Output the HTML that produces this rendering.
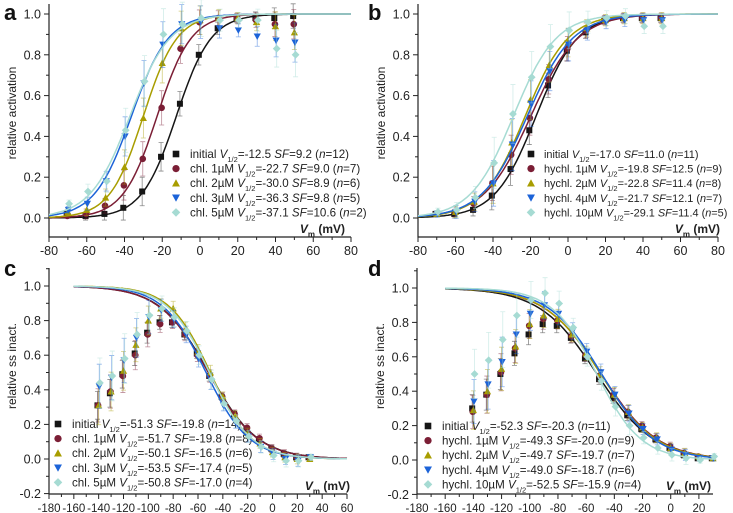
<!DOCTYPE html>
<html><head><meta charset="utf-8"><style>
html,body{margin:0;padding:0;background:#fff;}
svg{display:block;font-family:"Liberation Sans",sans-serif;}
</style></head><body>
<svg id="fig" width="733" height="513" viewBox="0 0 733 513"></svg>
<script>
const NS='http://www.w3.org/2000/svg';
const svg=document.getElementById('fig');
const colors=['#151515','#7b1e35','#a89d00','#1c63d8','#a6dbd3'];
const markers=['square','circle','tri-up','tri-down','diamond'];

// panel a
const aVolt=[-70,-60,-50,-40,-30,-20,-10,0,10,20,30,40,50];
const aInit=[0.02,0.01,0.02,0.05,0.13,0.30,0.56,0.80,0.93,0.98,0.98,0.98,0.99];
const aChl1=[0.01,0.02,0.06,0.16,0.29,0.54,0.83,0.96,0.98,0.98,0.97,0.95,0.95];
const aChl2=[0.03,0.04,0.10,0.25,0.49,0.76,0.93,0.97,0.98,0.98,0.96,0.94,0.91];
const aChl3=[0.04,0.07,0.18,0.40,0.66,0.85,0.95,0.96,0.93,0.92,0.89,0.87,0.86];
const aChl5=[0.07,0.13,0.18,0.43,0.67,0.90,0.95,0.98,0.97,0.97,0.97,0.83,0.80];
const aErr=[0.01,0.02,0.03,0.06,0.07,0.07,0.06,0.05,0.03,0.02,0.03,0.05,0.06];
const aV12=[-12.5,-22.7,-30.0,-36.3,-37.1];
const aSF=[9.2,9.0,8.9,9.8,10.6];
const aLabels=['initial','chl. 1\u00b5M','chl. 2\u00b5M','chl. 3\u00b5M','chl. 5\u00b5M'];
const aN=[12,7,6,5,2];
// panel b
const bVolt=[-70,-60,-50,-40,-30,-20,-10,0,10,20,30,40,50];
const bInit=[0.02,0.02,0.04,0.11,0.24,0.43,0.65,0.82,0.91,0.97,0.98,0.98,0.98];
const bHy1=[0.02,0.03,0.07,0.17,0.31,0.49,0.68,0.83,0.92,0.97,0.98,0.98,0.98];
const bHy2=[0.02,0.03,0.08,0.17,0.37,0.58,0.75,0.86,0.93,0.97,0.98,0.98,0.98];
const bHy4=[0.02,0.03,0.08,0.17,0.36,0.56,0.72,0.85,0.92,0.96,0.97,0.97,0.97];
const bHy10=[0.03,0.04,0.10,0.27,0.51,0.69,0.84,0.92,0.96,0.98,0.99,0.94,0.94];
const bErr=[0.01,0.02,0.03,0.07,0.08,0.07,0.06,0.05,0.03,0.02,0.02,0.02,0.02];
const bV12=[-17.0,-19.8,-22.8,-21.7,-29.1];
const bSF=[11.0,12.5,11.4,12.1,11.4];
const bLabels=['initial','hychl. 1\u00b5M','hychl. 2\u00b5M','hychl. 4\u00b5M','hychl. 10\u00b5M'];
const bN=[11,9,8,7,5];
// panel c
const cVolt=[-140,-130,-120,-110,-100,-90,-80,-70,-60,-50,-40,-30,-20,-10,0,10,20,30];
const cInit=[0.31,0.38,0.49,0.61,0.73,0.79,0.79,0.72,0.61,0.48,0.36,0.26,0.17,0.11,0.06,0.03,0.01,0.01];
const cChl1=[0.31,0.39,0.48,0.60,0.72,0.78,0.79,0.72,0.60,0.48,0.36,0.26,0.18,0.12,0.06,0.03,0.01,0.01];
const cChl2=[0.31,0.39,0.51,0.66,0.80,0.87,0.87,0.75,0.62,0.50,0.36,0.25,0.15,0.09,0.04,0.01,0.00,0.00];
const cChl3=[0.42,0.47,0.57,0.70,0.82,0.86,0.81,0.72,0.58,0.45,0.31,0.21,0.13,0.07,0.03,0.00,-0.01,0.01];
const cChl5=[0.44,0.48,0.58,0.72,0.83,0.87,0.82,0.74,0.60,0.46,0.32,0.22,0.13,0.07,0.02,-0.01,-0.01,0.01];
const cErr=[0.08,0.08,0.08,0.07,0.06,0.04,0.03,0.03,0.03,0.03,0.02,0.02,0.02,0.02,0.02,0.02,0.02,0.01];
const cV12=[-51.3,-51.7,-50.1,-53.5,-50.8];
const cSF=[-19.8,-19.8,-16.5,-17.4,-17.0];
const cLabels=['initial','chl. 1\u00b5M','chl. 2\u00b5M','chl. 3\u00b5M','chl. 5\u00b5M'];
const cN=[14,8,6,5,4];
// panel d
const dVolt=[-140,-130,-120,-110,-100,-90,-80,-70,-60,-50,-40,-30,-20,-10,0,10,20,30];
const dInit=[0.30,0.38,0.50,0.62,0.73,0.79,0.78,0.71,0.59,0.47,0.36,0.26,0.18,0.12,0.07,0.03,0.01,0.01];
const dHy1=[0.28,0.38,0.51,0.65,0.78,0.82,0.81,0.72,0.61,0.49,0.38,0.28,0.20,0.13,0.08,0.04,0.02,0.01];
const dHy2=[0.29,0.40,0.53,0.66,0.79,0.84,0.82,0.73,0.62,0.50,0.38,0.28,0.19,0.13,0.07,0.04,0.02,0.01];
const dHy4=[0.34,0.44,0.57,0.73,0.85,0.90,0.85,0.75,0.63,0.51,0.38,0.27,0.18,0.12,0.06,0.03,0.01,0.01];
const dHy10=[0.50,0.58,0.70,0.84,0.93,0.97,0.91,0.77,0.60,0.46,0.31,0.20,0.13,0.07,0.03,0.01,0.00,0.02];
const dErr=[0.08,0.09,0.09,0.07,0.06,0.05,0.04,0.03,0.03,0.03,0.03,0.03,0.02,0.02,0.02,0.02,0.01,0.01];
const dV12=[-52.3,-49.3,-49.7,-49.0,-52.5];
const dSF=[-20.3,-20.0,-19.7,-18.7,-15.9];
const dLabels=['initial','hychl. 1\u00b5M','hychl. 2\u00b5M','hychl. 4\u00b5M','hychl. 10\u00b5M'];
const dN=[11,9,7,6,4];
const actTicksX=[-80,-60,-40,-20,0,20,40,60,80];
const actTicksY=[0.0,0.2,0.4,0.6,0.8,1.0];
const inTicksXc=[-180,-160,-140,-120,-100,-80,-60,-40,-20,0,20,40,60];
const inTicksXd=[-180,-160,-140,-120,-100,-80,-60,-40,-20,0,20];
const inTicksY=[-0.2,0.0,0.2,0.4,0.6,0.8,1.0];

function el(tag,attrs,parent){const e=document.createElementNS(NS,tag);for(const k in attrs)e.setAttribute(k,attrs[k]);(parent||svg).appendChild(e);return e;}
function marker(g,type,cx,cy,col,s){
  let e;
  if(type==='square')e=el('rect',{x:cx-s,y:cy-s,width:2*s,height:2*s,fill:col},g);
  else if(type==='circle')e=el('circle',{cx:cx,cy:cy,r:s*1.1,fill:col},g);
  else if(type==='tri-up')e=el('polygon',{points:`${cx-s*1.2},${cy+s} ${cx+s*1.2},${cy+s} ${cx},${cy-s*1.2}`,fill:col},g);
  else if(type==='tri-down')e=el('polygon',{points:`${cx-s*1.2},${cy-s} ${cx+s*1.2},${cy-s} ${cx},${cy+s*1.2}`,fill:col},g);
  else e=el('polygon',{points:`${cx},${cy-s*1.3} ${cx+s*1.3},${cy} ${cx},${cy+s*1.3} ${cx-s*1.3},${cy}`,fill:col},g);
  return e;
}
function panel(p){
  const g=el('g',{});
  
  
  const X=v=>p.x0+(v-p.xmin)/(p.xmax-p.xmin)*(p.x1-p.x0);
  const Y=v=>p.y0-v*p.ys;
  const lt=el('text',{x:p.lx,y:p.ly,'font-size':22,'font-weight':'bold',fill:'#111'},g);lt.textContent=p.id;
  
  const ax=el('path',{d:`M${p.x0},${p.ytop} V${p.ybot} H${p.x1}`,stroke:'#222','stroke-width':1.2,fill:'none'},g);
  
  p.tx.forEach((v,i)=>{
    const x=X(v);
    el('line',{x1:x,y1:p.ybot,x2:x,y2:p.ybot+5,stroke:'#222','stroke-width':1},g);
    if(i<p.tx.length-1){const xm=X(v+(p.tx[1]-p.tx[0])/2);el('line',{x1:xm,y1:p.ybot,x2:xm,y2:p.ybot+3,stroke:'#222','stroke-width':1},g);}
    const t=el('text',{x:x,y:p.ybot+18,'font-size':p.xfs,'text-anchor':'middle',fill:'#222'},g);t.textContent=v;
    
  });
  p.ty.forEach(v=>{
    const y=Y(v);
    el('line',{x1:p.x0,y1:y,x2:p.x0-5,y2:y,stroke:'#222','stroke-width':1},g);
    const ym=Y(v+0.1); if(ym>p.ytop) el('line',{x1:p.x0,y1:ym,x2:p.x0-3,y2:ym,stroke:'#222','stroke-width':1},g);
    const t=el('text',{x:p.x0-8,y:y+4.5,'font-size':12.5,'text-anchor':'end',fill:'#222'},g);t.textContent=v.toFixed(1);
    
  });
  const yt=el('text',{x:0,y:0,'font-size':12,'text-anchor':'middle',fill:'#222',transform:`translate(${p.x0-33},${p.ytc}) rotate(-90)`},g);
  yt.textContent=p.ytitle;
  const xt=el('text',{x:p.xtx,y:p.xty,'font-size':12,'font-weight':'bold','text-anchor':'end',fill:'#222'},g);
  xt.innerHTML='<tspan font-style="italic">V</tspan><tspan font-size="8" dy="4">m</tspan><tspan dy="-4"> (mV)</tspan>';
  
  for(let s=0;s<5;s++){
    const sg=el('g',{},g);
    
    
    const col=colors[s];
    let d='';
    for(let v=p.cmin;v<=p.cmax;v+=1){const f=1/(1+Math.exp((p.v12[s]-v)/p.sf[s]));d+=(d?'L':'M')+X(v).toFixed(1)+','+Y(f).toFixed(1);}
    const c=el('path',{d:d,stroke:col,'stroke-width':1.5,fill:'none'},sg);
    
    const ys=p.series[s];
    p.volt.forEach((v,i)=>{
      const x=X(v)+(s-2)*0.6,y=Y(ys[i]),e=p.err[i]*(1+s*0.2);
      el('path',{d:`M${x},${Y(ys[i]+e)}V${Y(ys[i]-e)}M${x-2.5},${Y(ys[i]+e)}h5M${x-2.5},${Y(ys[i]-e)}h5`,stroke:col,'stroke-width':0.8,opacity:0.5,fill:'none'},sg);
      const m=marker(sg,markers[s],x,y,col,3);
      
    });
    const ly=p.legY+s*14.6;
    const lm=marker(g,markers[s],p.legX,ly-4,col,3.3);
    
    const lt2=el('text',{x:p.legX+p.legGap,y:ly,'font-size':p.lfs,fill:'#222'},g);
    lt2.innerHTML=`${p.labels[s]} <tspan font-style="italic">V</tspan><tspan font-size="7.5" dy="4">1/2</tspan><tspan dy="-4">=${p.v12[s].toFixed(1)} </tspan><tspan font-style="italic">SF</tspan>=${p.sf[s].toFixed(1)} (<tspan font-style="italic">n</tspan>=${p.n[s]})`;
    
  }
}
panel({id:'a',x0:49,x1:351,xmin:-80,xmax:80,y0:218,ys:204,ytop:4,ybot:237,lx:4,ly:20,xfs:12.5,lfs:11.6,legGap:14,
  tx:actTicksX,ty:actTicksY,ytitle:'relative activation',ytc:113,xtx:345,xty:233,cmin:-80,cmax:80,
  volt:aVolt,series:[aInit,aChl1,aChl2,aChl3,aChl5],err:aErr,v12:aV12,sf:aSF,labels:aLabels,n:aN,legX:176,legY:158});
panel({id:'b',x0:418,x1:718,xmin:-80,xmax:80,y0:218,ys:204,ytop:4,ybot:237,lx:368,ly:20,xfs:12.5,lfs:10.9,legGap:13,
  tx:actTicksX,ty:actTicksY,ytitle:'relative activation',ytc:113,xtx:720,xty:233,cmin:-80,cmax:80,
  volt:bVolt,series:[bInit,bHy1,bHy2,bHy4,bHy10],err:bErr,v12:bV12,sf:bSF,labels:bLabels,n:bN,legX:531,legY:158});
panel({id:'c',x0:49,x1:347,xmin:-180,xmax:60,y0:459,ys:173,ytop:268,ybot:494,lx:4,ly:276,xfs:11.5,lfs:11.6,legGap:14,
  tx:inTicksXc,ty:inTicksY,ytitle:'relative ss inact.',ytc:366,xtx:350,xty:490,cmin:-160,cmax:60,
  volt:cVolt,series:[cInit,cChl1,cChl2,cChl3,cChl5],err:cErr,v12:cV12,sf:cSF,labels:cLabels,n:cN,legX:58,legY:428});
panel({id:'d',x0:417,x1:713,xmin:-180,xmax:30,y0:460,ys:172,ytop:268,ybot:494,lx:368,ly:276,xfs:11.5,lfs:11.6,legGap:14,
  tx:inTicksXd,ty:inTicksY,ytitle:'relative ss inact.',ytc:366,xtx:711,xty:490,cmin:-160,cmax:30,
  volt:dVolt,series:[dInit,dHy1,dHy2,dHy4,dHy10],err:dErr,v12:dV12,sf:dSF,labels:dLabels,n:dN,legX:428,legY:430});
</script>
</body></html>
